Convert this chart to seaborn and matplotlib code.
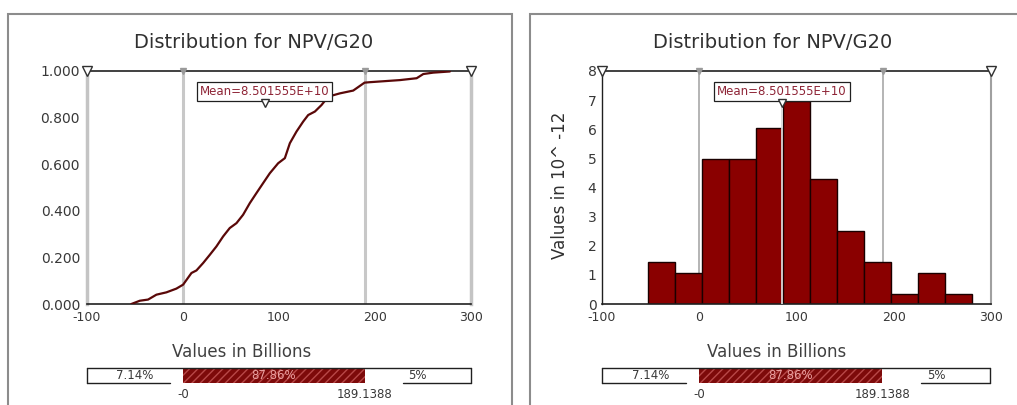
import matplotlib
matplotlib.use('Agg')
import matplotlib.pyplot as plt
import matplotlib.transforms as mtransforms
from matplotlib.patches import Rectangle
import seaborn as sns
import numpy as np

# values (billions)
cdf_x = [-53.8, -45.0, -36.4, -27.7, -17.3, -6.9, 0.1, 8.8, 14.0, 21.0, 27.9, 34.8,
         41.8, 48.7, 55.7, 62.6, 69.6, 76.5, 83.5, 90.4, 99.1, 106.1, 111.3, 118.2,
         125.2, 130.4, 137.4, 144.3, 151.3, 163.4, 177.3, 189.1, 194.7, 208.6, 226.0,
         243.4, 250.3, 260.7, 278.0]
cdf_y = [0.000, 0.014, 0.019, 0.040, 0.050, 0.066, 0.083, 0.133, 0.144, 0.176, 0.211, 0.247,
         0.290, 0.326, 0.347, 0.383, 0.433, 0.476, 0.519, 0.561, 0.604, 0.626, 0.690, 0.740,
         0.783, 0.811, 0.826, 0.854, 0.890, 0.904, 0.916, 0.950, 0.952, 0.956, 0.961,
         0.969, 0.987, 0.993, 0.998]

bin_edges = [-52.8, -25.0, 2.8, 30.6, 58.4, 86.2, 114.0, 141.8, 169.6, 197.4, 225.2, 253.0, 280.8]
bin_heights = [1.43, 1.05, 4.97, 4.97, 6.06, 6.98, 4.29, 2.49, 1.43, 0.34, 1.05, 0.34]  # x 10^-12

mean_val = 85.01555
mean_label = 'Mean=8.501555E+10'
lo_cut = 0.0
hi_cut = 189.1388
pct_labels = ['7.14%', '87.86%', '5%']
cut_labels = ['-0', '189.1388']

xticks = [-100, 0, 100, 200, 300]
cdf_ticks = [0.0, 0.2, 0.4, 0.6, 0.8, 1.0]
hist_ticks = [0, 1, 2, 3, 4, 5, 6, 7, 8]

sns.set_theme(style='white')
plt.rcParams['font.family'] = ['DejaVu Sans']
plt.rcParams['hatch.linewidth'] = 1.0

W, H = 1017, 405
fig = plt.figure(figsize=(W / 100, H / 100), dpi=100)
fig.patch.set_facecolor('white')


def box(x0, y0, x1, y1):
    # pixel box -> figure fraction rect
    return [x0 / W, 1 - y1 / H, (x1 - x0) / W, (y1 - y0) / H]


txt = '#383838'
dark_red = '#7d0a0a'

# panel frames
for x0, x1 in [(8, 512), (530, 1045)]:
    fig.add_artist(Rectangle((x0 / W, -0.1), (x1 - x0) / W, 1.1 - 14 / H,
                             transform=fig.transFigure, fill=False,
                             edgecolor='#8c8c8c', lw=1.5))

ax1 = fig.add_axes(box(87, 71, 471, 304))
ax2 = fig.add_axes(box(602, 71, 991, 304))
bar1 = fig.add_axes(box(87, 368, 471, 383))
bar2 = fig.add_axes(box(602, 368, 990, 383))

# left: cumulative curve
ax1.axvline(lo_cut, color='#c8c8c8', lw=2.2, zorder=1)
ax1.axvline(hi_cut, color='#c8c8c8', lw=2.2, zorder=1)
sns.lineplot(x=cdf_x, y=cdf_y, ax=ax1, color='#5a0808', lw=1.6, zorder=3)
ax1.set_ylim(0, 1)
ax1.set_yticks(cdf_ticks)
ax1.set_yticklabels([f'{v:.3f}' for v in cdf_ticks])
ax1.tick_params(axis='y', length=0, pad=5, labelsize=10, labelcolor=txt)

# right: density histogram
ax2.axvline(lo_cut, color='#a8a8a8', lw=1.2, zorder=0)
ax2.axvline(hi_cut, color='#a8a8a8', lw=1.2, zorder=0)
centers = [(a + b) / 2 for a, b in zip(bin_edges[:-1], bin_edges[1:])]
sns.histplot(x=centers, weights=bin_heights, bins=bin_edges, ax=ax2,
             color='#8a0000', edgecolor='#1a0000', linewidth=1.0, alpha=1, zorder=2)
ax2.set_ylim(0, 8)
ax2.set_yticks(hist_ticks)
ax2.set_ylabel('')
ax2.tick_params(axis='y', direction='inout', length=8, width=1, color='#222222',
                pad=0, labelsize=10, labelcolor=txt)
ax2.plot([mean_val, mean_val], [0, 6.98], color='#d8d8d8', lw=1.3, zorder=3)

for ax, side_w, side_c, left_c, ymax in [(ax1, 2.5, '#c4c4c4', '#c4c4c4', 1.0),
                                         (ax2, 1.5, '#a0a0a0', '#202020', 8.0)]:
    ax.set_xlim(-100, 300)
    ax.set_xticks(xticks)
    ax.set_xticklabels([str(v) for v in xticks])
    ax.tick_params(axis='x', direction='in', length=4, width=1, color='#888888',
                   pad=5, labelsize=9, labelcolor=txt)
    ax.set_xlabel('')
    ax.spines['top'].set_color('#202020')
    ax.spines['bottom'].set_color('#202020')
    ax.spines['top'].set_linewidth(1.2)
    ax.spines['bottom'].set_linewidth(1.2)
    ax.spines['right'].set_color(side_c)
    ax.spines['right'].set_linewidth(side_w)
    ax.spines['left'].set_color(left_c)
    ax.spines['left'].set_linewidth(side_w if ax is ax1 else 1.0)
    ax.grid(False)
    trans = mtransforms.blended_transform_factory(ax.transData, ax.transAxes)
    # markers on the top edge
    ax.plot([-100, 300], [1.0, 1.0], 'v', ms=6.5, mfc='white', mec='#303030', mew=1,
            transform=trans, clip_on=False, zorder=6)
    ax.plot([lo_cut, hi_cut], [1.0, 1.0], 'v', ms=4.5, mfc='#9a9a9a', mec='#9a9a9a',
            transform=trans, clip_on=False, zorder=6)
    # mean flag
    ax.text(mean_val, 0.912, mean_label, transform=trans, ha='center', va='center',
            fontsize=8.5, color='#8e2436', zorder=7,
            bbox=dict(boxstyle='square,pad=0.25', facecolor='white', edgecolor='#202020', lw=0.9))
    ax.plot([mean_val], [0.862], 'v', ms=6, mfc='white', mec='#303030', mew=1,
            transform=trans, clip_on=False, zorder=7)

# bottom percentage bars
for bar in [bar1, bar2]:
    bar.set_xlim(-100, 300)
    bar.set_ylim(0, 1)
    bar.axis('off')
    bar.barh(0.5, lo_cut + 100, left=-100, height=1, color='white', linewidth=0)
    bar.barh(0.5, hi_cut - lo_cut, left=lo_cut, height=1, color=dark_red,
             edgecolor='#b84848', hatch='////', linewidth=0)
    bar.barh(0.5, 300 - hi_cut, left=hi_cut, height=1, color='white', linewidth=0)
    ln = dict(color='#202020', lw=1.0, clip_on=False)
    bar.plot([-100, 300], [1, 1], **ln)
    bar.plot([-100, -100], [0, 1], **ln)
    bar.plot([300, 300], [0, 1], **ln)
    bar.plot([-100, -13.5], [0, 0], **ln)
    bar.plot([229, 300], [0, 0], **ln)
    bar.text(-50, 0.5, pct_labels[0], ha='center', va='center', fontsize=8.5, color=txt)
    bar.text((lo_cut + hi_cut) / 2, 0.5, pct_labels[1], ha='center', va='center',
             fontsize=8.5, color='#eaa0a0')
    bar.text((hi_cut + 300) / 2, 0.5, pct_labels[2], ha='center', va='center',
             fontsize=8.5, color=txt)
    bar.text(lo_cut, -0.75, cut_labels[0], ha='center', va='center', fontsize=8.5,
             color=txt, clip_on=False)
    bar.text(hi_cut, -0.75, cut_labels[1], ha='center', va='center', fontsize=8.5,
             color=txt, clip_on=False)

# titles and axis captions
for cx in [254, 773]:
    fig.text(cx / W, 1 - 42 / H, 'Distribution for NPV/G20', ha='center', va='center',
             fontsize=14, color='#303030')
for cx in [242, 777]:
    fig.text(cx / W, 1 - 352 / H, 'Values in Billions', ha='center', va='center',
             fontsize=12, color='#404040')
fig.text(560 / W, 1 - 185 / H, 'Values in 10^ -12', rotation=90, ha='center', va='center',
         fontsize=12, color='#303030')

fig.savefig('out.png', dpi=100, facecolor='white')
